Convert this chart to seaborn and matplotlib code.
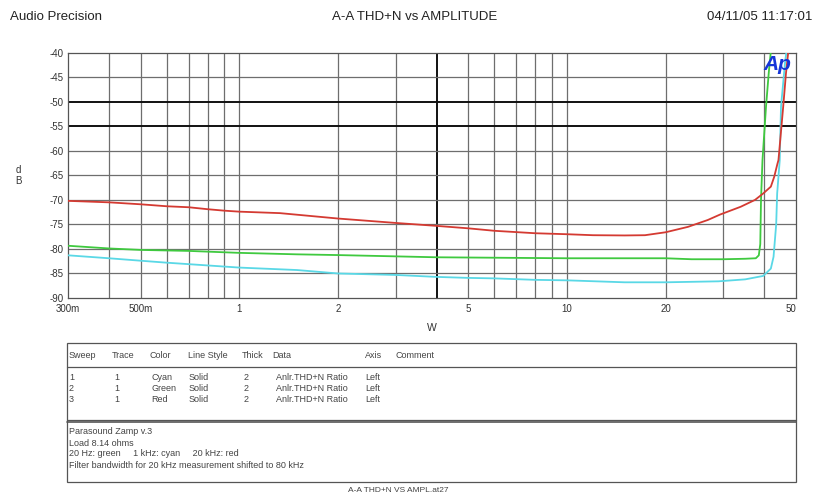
import numpy as np
import pandas as pd
import matplotlib
matplotlib.use("Agg")
import matplotlib.pyplot as plt
from matplotlib.lines import Line2D
from matplotlib.patches import Rectangle
from matplotlib.ticker import FixedLocator, NullFormatter, MultipleLocator
import seaborn as sns

# ---------------- data ----------------
cyan_w = [0.3, 0.4, 0.5, 0.6, 0.7, 1.0, 1.5, 2, 3, 4, 5, 6, 8, 10, 15, 20, 29,
          35, 39.7, 41.9, 42.7, 43.5, 43.8, 44.6, 45.0, 46.3, 46.9]
cyan_db = [-81.3, -81.9, -82.4, -82.8, -83.1, -83.8, -84.3, -85.0, -85.3, -85.7,
           -85.9, -86.0, -86.3, -86.4, -86.8, -86.8, -86.6, -86.2, -85.5, -84.0,
           -81.6, -75.0, -68.7, -61.9, -51.0, -42.0, -39.0]

green_w = [0.3, 0.4, 0.5, 0.7, 1.0, 1.5, 2, 4, 10, 20, 24, 30, 35, 37.7, 38.5,
           38.9, 39.1, 39.5, 40.5, 41.3, 42.0]
green_db = [-79.35, -79.9, -80.2, -80.4, -80.8, -81.1, -81.25, -81.7, -81.9, -81.9,
            -82.1, -82.1, -82.0, -81.9, -81.3, -79.0, -70.0, -62.0, -51.0, -44.0, -39.0]

red_w = [0.3, 0.4, 0.5, 0.6, 0.7, 0.8, 0.9, 1.0, 1.33, 2, 3, 4, 5, 6, 8, 10, 12,
         15, 17.3, 20, 23.4, 26.9, 29.3, 33.9, 37.5, 39.7, 41.9, 42.9, 43.9, 44.2,
         45.7, 46.6, 47.5]
red_db = [-70.2, -70.5, -70.9, -71.3, -71.5, -71.9, -72.2, -72.4, -72.7, -73.8,
          -74.7, -75.3, -75.8, -76.3, -76.8, -77.0, -77.2, -77.25, -77.2, -76.6,
          -75.5, -74.1, -73.0, -71.4, -70.0, -68.7, -67.3, -65.3, -62.6, -61.9,
          -51.0, -44.2, -39.0]

series_names = ["Cyan", "Green", "Red"]
series_colors = ["#5ad8e6", "#3fc93f", "#d43a32"]

x_ticks = [0.3, 0.5, 1, 2, 5, 10, 20, 50]
x_tick_labels = ["300m", "500m", "1", "2", "5", "10", "20", "50"]
y_ticks = [-40, -45, -50, -55, -60, -65, -70, -75, -80, -85, -90]

table_header = ["Sweep", "Trace", "Color", "Line Style", "Thick", "Data", "Axis", "Comment"]
table_rows = [
    ["1", "1", "Cyan", "Solid", "2", "Anlr.THD+N Ratio", "Left", ""],
    ["2", "1", "Green", "Solid", "2", "Anlr.THD+N Ratio", "Left", ""],
    ["3", "1", "Red", "Solid", "2", "Anlr.THD+N Ratio", "Left", ""],
]
notes = [
    "Parasound Zamp v.3",
    "Load 8.14 ohms",
    "20 Hz: green     1 kHz: cyan     20 kHz: red",
    "Filter bandwidth for 20 kHz measurement shifted to 80 kHz",
]

# ---------------- styling ----------------
sns.set_style("white")
plt.rcParams["font.family"] = ["Liberation Sans Narrow", "Liberation Sans", "DejaVu Sans"]
plt.rcParams["axes.unicode_minus"] = False

W, H = 817, 496
fig = plt.figure(figsize=(W / 100, H / 100), dpi=100)

def fx(px):
    return px / W

def fy(py):
    return 1 - py / H

x0, x1, ytop, ybot = 68, 796, 52.7, 298
ax = fig.add_axes([fx(x0), fy(ybot), fx(x1) - fx(x0), fy(ytop) - fy(ybot)])

df = pd.concat([
    pd.DataFrame({"W": cyan_w, "dB": cyan_db, "Sweep": "Cyan"}),
    pd.DataFrame({"W": green_w, "dB": green_db, "Sweep": "Green"}),
    pd.DataFrame({"W": red_w, "dB": red_db, "Sweep": "Red"}),
], ignore_index=True)

ax.set_xscale("log")
ax.set_xlim(0.3, 50)
ax.set_ylim(-90, -40)

# grid
grid_color = "#6e6e6e"
minor_x = [0.4, 0.6, 0.7, 0.8, 0.9, 3, 4, 6, 7, 8, 9, 30, 40]
for xv in list(x_ticks) + minor_x:
    if 0.3 < xv < 50:
        dark = (xv == 4)
        ax.axvline(xv, color="#111111" if dark else grid_color,
                   lw=1.4 if dark else 0.9, zorder=1)
for yv in y_ticks:
    if -90 < yv < -40:
        dark = yv in (-50, -55)
        ax.axhline(yv, color="#111111" if dark else grid_color,
                   lw=1.4 if dark else 0.9, zorder=1)

sns.lineplot(data=df, x="W", y="dB", hue="Sweep", palette=dict(zip(series_names, series_colors)),
             estimator=None, sort=False, lw=1.3, legend=False, ax=ax, zorder=3)

ax.xaxis.set_major_locator(FixedLocator(x_ticks))
ax.set_xticklabels(x_tick_labels)
ax.xaxis.set_minor_formatter(NullFormatter())
ax.tick_params(axis="x", which="both", length=0, pad=4, labelsize=7, colors="#333333")
ax.get_xticklabels()[-1].set_ha("right")
ax.set_yticks(y_ticks)
ax.yaxis.set_minor_locator(MultipleLocator(1))
ax.tick_params(axis="y", which="major", direction="in", length=4, width=0.8,
               pad=3, labelsize=7, colors="#333333")
ax.tick_params(axis="y", which="minor", direction="in", length=2.5, width=0.6, color="#333333")
ax.set_xlabel("W", fontsize=7.5, color="#333333", labelpad=7)
ax.set_ylabel("")
for s in ax.spines.values():
    s.set_color("#555555")
    s.set_linewidth(0.9)

# "Ap" logo
ax.text(0.975, 0.95, "Ap", transform=ax.transAxes, ha="center", va="center",
        fontsize=15, fontweight="bold", style="italic", color="#1636d8",
        family=["Liberation Sans", "DejaVu Sans"], zorder=5)

# y label (stacked letters)
fig.text(fx(18), fy(170), "d", fontsize=7, color="#333333", ha="center", va="center")
fig.text(fx(18), fy(181), "B", fontsize=7, color="#333333", ha="center", va="center")

# header
fig.text(fx(10), fy(17), "Audio Precision", fontsize=9.5, color="#222222", ha="left", va="center")
fig.text(fx(415), fy(17), "A-A THD+N vs AMPLITUDE", fontsize=9.5, color="#222222", ha="center", va="center")
fig.text(fx(812), fy(17), "04/11/05 11:17:01", fontsize=9.5, color="#222222", ha="right", va="center")

# table box
tl, tr, tt, tb = 66.5, 796, 343, 481.5
fig.add_artist(Rectangle((fx(tl), fy(tb)), fx(tr) - fx(tl), fy(tt) - fy(tb),
                         fill=False, ec="#555555", lw=0.9, transform=fig.transFigure))
for yy, lw in [(366.5, 0.9), (419.5, 0.9), (422, 1.2)]:
    fig.add_artist(Line2D([fx(tl), fx(tr)], [fy(yy), fy(yy)], color="#555555", lw=lw,
                          transform=fig.transFigure))

col_x = [69, 112, 149, 188, 242, 272, 365, 396]
for cx, h in zip(col_x, table_header):
    fig.text(fx(cx), fy(355), h, fontsize=6.5, color="#444444", ha="left", va="center")
row_y = [378, 388.5, 399]
row_x = [69, 114, 151, 189, 244, 276, 365, 396]
for ry, row in zip(row_y, table_rows):
    for cx, v in zip(row_x, row):
        if v:
            fig.text(fx(cx), fy(ry), v, fontsize=6.5, color="#444444", ha="left", va="center")

note_y = [432, 443, 454, 465]
for ny, n in zip(note_y, notes):
    fig.text(fx(69), fy(ny), n, fontsize=6.5, color="#444444", ha="left", va="center")

fig.text(fx(398), fy(490), "A-A THD+N VS AMPL.at27", fontsize=6, color="#444444",
         ha="center", va="center")

fig.savefig("out.png", dpi=100)
